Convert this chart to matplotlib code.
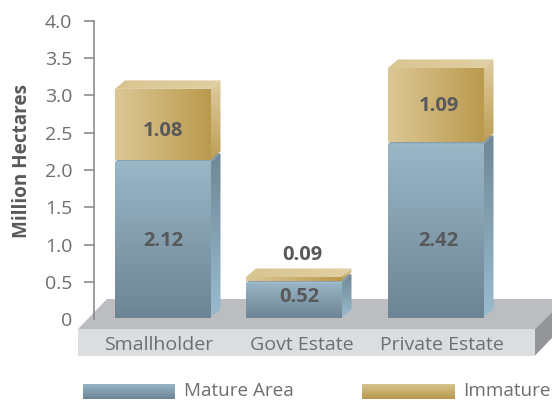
import numpy as np
import matplotlib
matplotlib.use("Agg")
import matplotlib.pyplot as plt
from matplotlib.colors import LinearSegmentedColormap
from matplotlib.patches import Polygon

plt.rcParams["font.family"] = ["Open Sans", "DejaVu Sans"]

# === Data ===
categories = ["Smallholder", "Govt Estate", "Private Estate"]
mature_labels = ["2.12", "0.52", "2.42"]
immature_labels = ["1.08", "0.09", "1.09"]
# height of the front faces (the 3D faces are not quite to scale)
mature_heights = [2.09, 0.47, 2.33]
immature_heights = [0.95, 0.05, 0.99]
y_ticks = [0, 0.5, 1.0, 1.5, 2.0, 2.5, 3.0, 3.5, 4.0]
y_tick_labels = ["0", "0.5", "1.0", "1.5", "2.0", "2.5", "3.0", "3.5", "4.0"]

# === Layout, in pixels of the 552x401 picture ===
W, H = 552, 401
AX_LEFT, AX_TOP, AX_BOTTOM = 94, 20.7, 319.3
bar_lefts = [115, 246, 388]
bar_width = 95.5
label_centres = [158.5, 301.5, 442]
mature_label_pos = [(163, 241), (299, 297.5), (438.5, 241)]
immature_label_pos = [(163, 131.5), (302.5, 255.5), (439, 106)]
DX, DY_PX = 10, 8.5
GAP_PX = 2.0

BASE = 0.02
GREY = "#6d6e71"
DARK = "#58595b"
GOLD_H = ["#dcc795", "#ba9a4d"]
GOLD_V = ["#d8c48f", "#b8974c"]
GOLD_SIDE = ["#dfcc9f", "#bd9f55"]
BLUE_V = ["#9ab7c7", "#6d8494"]
BLUE_SIDE = ["#6f8795", "#9abcd0"]
BLUE_TOP = ["#6d8595", "#8aa6b6"]


def gradient_poly(ax, verts, colors, horizontal=False, zorder=2):
    # gradient image clipped to a polygon
    verts = np.array(verts, dtype=float)
    cmap = LinearSegmentedColormap.from_list("g", colors)
    grad = np.linspace(0, 1, 128)
    grad = grad.reshape(1, -1) if horizontal else grad.reshape(-1, 1)
    x0, x1 = verts[:, 0].min(), verts[:, 0].max()
    y0, y1 = verts[:, 1].min(), verts[:, 1].max()
    xlim, ylim = ax.get_xlim(), ax.get_ylim()
    top, bottom = (y0, y1) if ax.yaxis_inverted() else (y1, y0)
    im = ax.imshow(grad, cmap=cmap, extent=(x0, x1, bottom, top), aspect="auto",
                   zorder=zorder, interpolation="bilinear")
    patch = Polygon(verts, closed=True, transform=ax.transData, fill=False, edgecolor="none")
    ax.add_patch(patch)
    im.set_clip_path(patch)
    ax.set_xlim(xlim)
    ax.set_ylim(ylim)


fig = plt.figure(figsize=(W / 100, H / 100), dpi=100)

# === Floor and legend layer, in picture pixels ===
bg = fig.add_axes([0, 0, 1, 1], zorder=0)
bg.set_xlim(0, W)
bg.set_ylim(H, 0)
bg.axis("off")
bg.add_patch(Polygon([(78, 329), (107, 299), (552, 299), (552, 312), (535, 329)], color="#bcbdc0", lw=0))
bg.add_patch(Polygon([(78, 329), (535, 329), (535, 356), (78, 356)], color="#dcddde", lw=0))
bg.add_patch(Polygon([(535, 329), (552, 312), (552, 338), (535, 355.5)], color="#939598", lw=0))

gradient_poly(bg, [(83, 384), (175, 384), (175, 399), (83, 399)], ["#96b4c5", "#6d8595"])
gradient_poly(bg, [(362, 384), (455, 384), (455, 399), (362, 399)], GOLD_V)
bg.text(184, 391.5, "Mature Area", fontsize=13.6, color=GREY, va="center", ha="left")
bg.text(463, 391.5, "Immature", fontsize=13.6, color=GREY, va="center", ha="left")

# === Chart ===
ax = fig.add_axes([AX_LEFT / W, 1 - AX_BOTTOM / H, (W - AX_LEFT) / W, (AX_BOTTOM - AX_TOP) / H], zorder=1)
ax.patch.set_alpha(0)
ax.set_xlim(AX_LEFT, W)
ax.set_ylim(0, 4)
unit_px = (AX_BOTTOM - AX_TOP) / 4
DY = DY_PX / unit_px
GAP = GAP_PX / unit_px

for i in range(len(categories)):
    x0 = bar_lefts[i]
    x1 = x0 + bar_width
    m_top = BASE + mature_heights[i]
    i_bot = m_top + GAP
    i_top = i_bot + immature_heights[i]

    # mature block
    gradient_poly(ax, [(x1, BASE), (x1 + DX, BASE + DY), (x1 + DX, m_top + DY), (x1, m_top)], BLUE_SIDE)
    gradient_poly(ax, [(x0, m_top), (x0 + DX, m_top + DY), (x1 + DX, m_top + DY), (x1, m_top)], BLUE_TOP)
    gradient_poly(ax, [(x0, BASE), (x1, BASE), (x1, m_top), (x0, m_top)], BLUE_V)

    # immature block
    gradient_poly(ax, [(x1, i_bot), (x1 + DX, i_bot + DY), (x1 + DX, i_top + DY), (x1, i_top)], GOLD_SIDE)
    gradient_poly(ax, [(x0, i_top), (x0 + DX, i_top + DY), (x1 + DX, i_top + DY), (x1, i_top)],
                  ["#d9c591", "#e0cfa2"], horizontal=True)
    gradient_poly(ax, [(x0, i_bot), (x1, i_bot), (x1, i_top), (x0, i_top)], GOLD_H, horizontal=True)

# value labels, placed in picture pixels
for labels, positions in [(mature_labels, mature_label_pos), (immature_labels, immature_label_pos)]:
    for text, (px, py) in zip(labels, positions):
        ax.text(px, (AX_BOTTOM - py) / unit_px, text, fontsize=14.5, fontweight="bold",
                color=DARK, ha="center", va="center")

# === Axes ===
for s in ["top", "right", "bottom"]:
    ax.spines[s].set_visible(False)
ax.spines["left"].set_color("#808285")
ax.spines["left"].set_linewidth(1.1)
ax.spines["left"].set_zorder(1)

ax.set_yticks(y_ticks)
ax.set_yticklabels(y_tick_labels, fontsize=14, color=GREY)
ax.tick_params(axis="y", length=7.2, width=1.1, color="#808285", pad=8.3)
ax.yaxis.get_major_ticks()[0].tick1line.set_visible(False)
ax.set_ylabel("Million Hectares", fontsize=13.6, fontweight="bold", color=DARK, va="center")
ax.yaxis.set_label_coords((22 - AX_LEFT) / (W - AX_LEFT), (AX_BOTTOM - 161) / (AX_BOTTOM - AX_TOP))

ax.set_xticks(label_centres)
ax.set_xticklabels(categories, fontsize=14, color=GREY)
ax.tick_params(axis="x", length=0, pad=12)

fig.savefig("out.png", dpi=100)
